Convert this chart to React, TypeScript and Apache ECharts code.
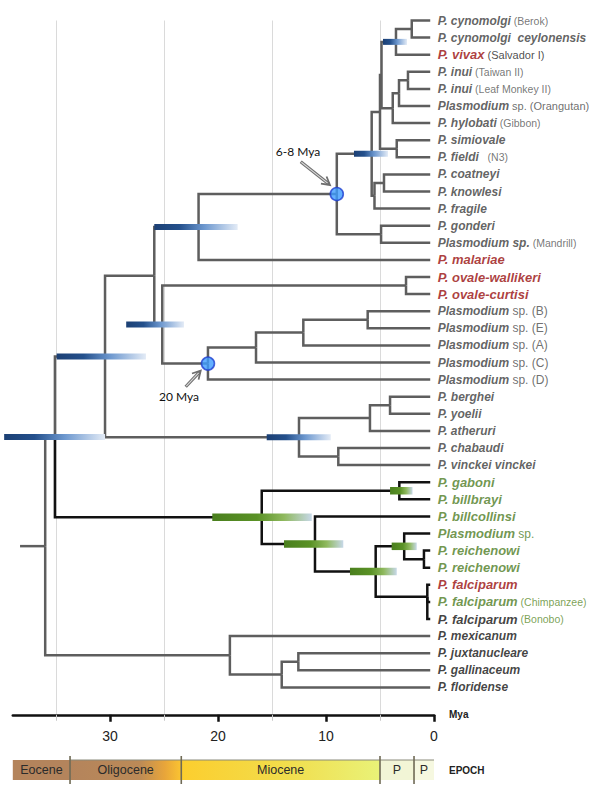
import React, { useEffect, useRef } from 'react';
import * as echarts from 'echarts';

// ---------------- DATA ----------------
const LEAF_AGE = 0.35;
const ROOT_STEM_AGE = 38.33;

// [name, suffix, nameStyle, suffixStyle, parentNode]
const LEAVES: [string, string, string, string, string][] = [
  ['P. cynomolgi', ' (Berok)', 'grey', 'small', 'CY'],
  ['P. cynomolgi  ceylonensis', '', 'grey', 'small', 'CY'],
  ['P. vivax', ' (Salvador I)', 'red', 'dark', 'CV'],
  ['P. inui', ' (Taiwan II)', 'grey', 'small', 'II'],
  ['P. inui', ' (Leaf Monkey II)', 'grey', 'small', 'II'],
  ['Plasmodium', ' sp. (Orangutan)', 'grey', 'mid', 'IO'],
  ['P. hylobati', ' (Gibbon)', 'grey', 'small', 'IH'],
  ['P. simiovale', '', 'grey', 'small', 'SF'],
  ['P. fieldi', '   (N3)', 'grey', 'small', 'SF'],
  ['P. coatneyi', '', 'grey', 'small', 'CK'],
  ['P. knowlesi', '', 'grey', 'small', 'CK'],
  ['P. fragile', '', 'grey', 'small', 'CKF'],
  ['P. gonderi', '', 'grey', 'small', 'GM'],
  ['Plasmodium sp.', ' (Mandrill)', 'grey', 'small', 'GM'],
  ['P. malariae', '', 'red', 'small', 'F'],
  ['P. ovale-wallikeri', '', 'red', 'small', 'OV'],
  ['P. ovale-curtisi', '', 'red', 'small', 'OV'],
  ['Plasmodium', ' sp. (B)', 'grey', 'sp', 'BE'],
  ['Plasmodium', ' sp. (E)', 'grey', 'sp', 'BE'],
  ['Plasmodium', ' sp. (A)', 'grey', 'sp', 'BEA'],
  ['Plasmodium', ' sp. (C)', 'grey', 'sp', 'J'],
  ['Plasmodium', ' sp. (D)', 'grey', 'sp', 'N20'],
  ['P. berghei', '', 'grey', 'small', 'BY'],
  ['P. yoelii', '', 'grey', 'small', 'BY'],
  ['P. atheruri', '', 'grey', 'small', 'BYA'],
  ['P. chabaudi', '', 'grey', 'small', 'CHV'],
  ['P. vinckei vinckei', '', 'grey', 'small', 'CHV'],
  ['P. gaboni', '', 'green', 'small', 'GB'],
  ['P. billbrayi', '', 'green', 'small', 'GB'],
  ['P. billcollinsi', '', 'green', 'small', 'Q'],
  ['Plasmodium', ' sp.', 'green', 'spg', 'T'],
  ['P. reichenowi', '', 'green', 'small', 'RR'],
  ['P. reichenowi', '', 'green', 'small', 'RR'],
  ['P. falciparum', '', 'red', 'small', 'FAL'],
  ['P. falciparum', ' (Chimpanzee)', 'green', 'smallg', 'FAL'],
  ['P. falciparum', ' (Bonobo)', 'black13', 'smallg', 'FAL'],
  ['P. mexicanum', '', 'black', 'small', 'L'],
  ['P. juxtanucleare', '', 'black', 'small', 'NB'],
  ['P. gallinaceum', '', 'black', 'small', 'NB'],
  ['P. floridense', '', 'black', 'small', 'M'],
];

// [id, parent, age (Mya), fixed row or null]
const NODES: [string, string | null, number, number | null][] = [
  ['ROOT', null, 36.0, null],
  ['K', 'ROOT', 35.1, null],
  ['H', 'K', 30.46, null],
  ['G', 'H', 25.9, null],
  ['F', 'G', 21.8, null],
  ['N68', 'F', 9.0, null],
  ['D', 'N68', 5.77, null],
  ['E2', 'D', 5.0, null],
  ['E1', 'E2', 4.86, null],
  ['CV', 'E1', 3.52, null],
  ['CY', 'CV', 2.06, null],
  ['IH', 'E1', 3.82, null],
  ['IO', 'IH', 3.24, null],
  ['II', 'IO', 2.41, null],
  ['SF', 'E2', 3.45, null],
  ['CKF', 'D', 5.51, null],
  ['CK', 'CKF', 4.63, null],
  ['GM', 'N68', 4.9, null],
  ['I', 'G', 25.16, null],
  ['OV', 'I', 2.59, null],
  ['N20', 'I', 20.93, null],
  ['J', 'N20', 16.48, null],
  ['BEA', 'J', 12.1, null],
  ['BE', 'BEA', 6.14, null],
  ['R', 'H', 12.5, null],
  ['BYA', 'R', 5.93, null],
  ['BY', 'BYA', 4.07, null],
  ['CHV', 'R', 8.86, null],
  ['P', 'K', 15.95, null],
  ['GB', 'P', 3.21, null],
  ['Q', 'P', 11.02, null],
  ['S', 'Q', 5.4, null],
  ['T', 'S', 2.76, null],
  ['RR', 'T', 0.93, null],
  ['FAL', 'S', 0.62, 33.7],
  ['L', 'ROOT', 18.9, null],
  ['M', 'L', 14.1, null],
  ['NB', 'M', 12.56, null],
];

const BLACK_CLADE = 'P';

// age confidence bars: [node, older, younger, kind 0=blue 1=green]
const BARS: [string, number, number, number][] = [
  ['CV', 4.72, 2.5, 0],
  ['D', 7.41, 4.26, 0],
  ['F', 25.9, 18.18, 0],
  ['I', 28.5, 23.15, 0],
  ['H', 34.94, 26.67, 0],
  ['K', 39.8, 30.46, 0],
  ['R', 15.49, 9.56, 0],
  ['P', 20.53, 11.32, 1],
  ['GB', 4.07, 1.99, 1],
  ['Q', 13.89, 8.4, 1],
  ['S', 7.78, 3.45, 1],
  ['T', 3.92, 1.6, 1],
];

const MARKED_NODES = ['N68', 'N20'];

// [text, labelAge, labelRow, fromAge, fromRow, toAge, toRow]
const ANNOTATIONS: [string, number, number, number, number, number, number][] = [
  ['6-8 Mya', 12.59, 7.67, 12.34, 8.26, 9.63, 9.62],
  ['20 Mya', 23.61, 21.96, 22.99, 21.42, 21.6, 20.48],
];

const X_TICKS = [0, 10, 20, 30];
const X_MINOR = [5, 15, 25, 35];

const EPOCHS = ['Eocene', 'Oligocene', 'Miocene', 'P', 'P'];
const EPOCH_START = [39, 33.7, 23.4, 5.0, 1.85];
const EPOCH_END = [33.7, 23.4, 5.0, 1.85, 0];

// ---------------- STYLES ----------------
const FONT = 'Liberation Sans';
const EPOCH_FILL: [number, string][][] = [
  [[0, '#b4845c'], [1, '#b4845c']],
  [[0, '#b4845c'], [0.62, '#bb8a57'], [0.85, '#e8a53a'], [1, '#fbc431']],
  [[0, '#fcce2e'], [0.5, '#f2dc4a'], [1, '#e9f278']],
  [[0, '#f2f5d6'], [1, '#f2f5d6']],
  [[0, '#f6f8e0'], [1, '#f6f8e0']],
];
const BAR_STOPS = [
  [[0, '#1c4074'], [0.3, '#24508c'], [0.6, '#6d98cf'], [1, '#e3ebf6']],
  [[0, '#4a7f1e'], [0.45, '#5a9226'], [0.72, '#8fb95e'], [1, '#c7d8e8']],
];
const BAR_H = [6, 7.5];

const RICH: Record<string, any> = {
  grey: { fontFamily: FONT, fontSize: 12, fontWeight: 'bold', fontStyle: 'italic', color: '#3a3a3a' },
  red: { fontFamily: FONT, fontSize: 13, fontWeight: 'bold', fontStyle: 'italic', color: '#980c0c' },
  green: { fontFamily: FONT, fontSize: 13, fontWeight: 'bold', fontStyle: 'italic', color: '#4d7c1f' },
  black: { fontFamily: FONT, fontSize: 12, fontWeight: 'bold', fontStyle: 'italic', color: '#111111' },
  black13: { fontFamily: FONT, fontSize: 13, fontWeight: 'bold', fontStyle: 'italic', color: '#111111' },
  small: { fontFamily: FONT, fontSize: 10.5, color: '#555555' },
  mid: { fontFamily: FONT, fontSize: 11, color: '#4a4a4a' },
  dark: { fontFamily: FONT, fontSize: 11, color: '#222222' },
  sp: { fontFamily: FONT, fontSize: 12, color: '#4a4a4a' },
  spg: { fontFamily: FONT, fontSize: 12, color: '#4d7c1f' },
  smallg: { fontFamily: FONT, fontSize: 10.5, color: '#5a8a2a' },
};

// ---------------- TREE LAYOUT (rows from leaves) ----------------
const nodeMap: Record<string, [string, string | null, number, number | null]> = {};
NODES.forEach((n) => (nodeMap[n[0]] = n));
const leafRows: Record<string, number[]> = {};
LEAVES.forEach((l, i) => {
  (leafRows[l[4]] = leafRows[l[4]] || []).push(i);
});
const kids: Record<string, string[]> = {};
NODES.forEach((n) => {
  if (n[1]) (kids[n[1]] = kids[n[1]] || []).push(n[0]);
});
const rowOf: Record<string, number> = {};
function computeRow(id: string): number {
  if (rowOf[id] !== undefined) return rowOf[id];
  const n = nodeMap[id];
  const rows = [...(leafRows[id] || []), ...(kids[id] || []).map(computeRow)];
  const r = n[3] != null ? n[3] : (Math.min(...rows) + Math.max(...rows)) / 2;
  rowOf[id] = r;
  return r;
}
NODES.forEach((n) => computeRow(n[0]));
function isBlack(id: string | null): boolean {
  let cur = id;
  while (cur) {
    if (cur === BLACK_CLADE) return true;
    cur = nodeMap[cur][1];
  }
  return false;
}
type Edge = { pa: number; pr: number; ca: number; cr: number; black: boolean };
const EDGES: Edge[] = [];
NODES.forEach((n) => {
  if (n[1]) {
    const p = nodeMap[n[1]];
    EDGES.push({ pa: p[2], pr: rowOf[p[0]], ca: n[2], cr: rowOf[n[0]], black: isBlack(n[0]) });
  } else {
    EDGES.push({ pa: ROOT_STEM_AGE, pr: rowOf[n[0]], ca: n[2], cr: rowOf[n[0]], black: false });
  }
});
LEAVES.forEach((l, i) => {
  const p = nodeMap[l[4]];
  EDGES.push({ pa: p[2], pr: rowOf[p[0]], ca: LEAF_AGE, cr: i, black: isBlack(p[0]) });
});

// ---------------- OPTION ----------------
const GRID_LEFT = 12.8;
const GRID_W = 421.2;

const option: any = {
  animation: false,
  backgroundColor: '#ffffff',
  grid: [
    { left: GRID_LEFT, top: 20.5, width: GRID_W, height: 694.26 },
    { left: GRID_LEFT, top: 760, width: GRID_W, height: 20 },
  ],
  xAxis: [
    {
      gridIndex: 0,
      type: 'value',
      min: 0,
      max: 39,
      interval: 5,
      inverse: true,
      position: 'bottom',
      name: 'Mya',
      nameLocation: 'start',
      nameGap: 15,
      nameTextStyle: { fontFamily: FONT, fontSize: 10, fontWeight: 'bold', color: '#222' },
      axisLine: { show: true, onZero: false, lineStyle: { color: '#111', width: 2.5 } },
      axisTick: { show: true, customValues: X_TICKS, length: 7, lineStyle: { color: '#111', width: 2.5 } },
      axisLabel: { show: true, customValues: X_TICKS, fontFamily: FONT, fontSize: 14, color: '#222', margin: 14 },
      splitLine: { show: false },
    },
    {
      gridIndex: 0,
      type: 'value',
      min: 0,
      max: 39,
      interval: 5,
      inverse: true,
      position: 'bottom',
      axisLine: { show: false, onZero: false },
      axisTick: { show: true, customValues: X_MINOR, length: 6, lineStyle: { color: '#c8c8c8', width: 1 } },
      axisLabel: { show: false },
      splitLine: { show: true, lineStyle: { color: '#dadada', width: 1 } },
    },
    {
      gridIndex: 1,
      type: 'value',
      min: 0,
      max: 39,
      inverse: true,
      position: 'bottom',
      offset: -10,
      name: 'EPOCH',
      nameLocation: 'start',
      nameGap: 15,
      nameTextStyle: { fontFamily: FONT, fontSize: 10, fontWeight: 'bold', color: '#222' },
      axisLine: { show: false, onZero: false },
      axisTick: { show: false },
      axisLabel: { show: false },
      splitLine: { show: false },
    },
  ],
  yAxis: [
    { gridIndex: 0, type: 'value', min: 0, max: 40.6, inverse: true, show: false },
    { gridIndex: 1, type: 'value', min: 0, max: 1, show: false },
  ],
  series: [
    {
      type: 'custom',
      name: 'tree',
      xAxisIndex: 0,
      yAxisIndex: 0,
      clip: false,
      silent: true,
      z: 2,
      data: EDGES.map((e) => [e.pa, e.pr, e.ca, e.cr]),
      renderItem: (params: any, api: any) => {
        const e = EDGES[params.dataIndex];
        const p0 = api.coord([api.value(0), api.value(1)]);
        const p1 = api.coord([api.value(0), api.value(3)]);
        const p2 = api.coord([api.value(2), api.value(3)]);
        return {
          type: 'polyline',
          shape: { points: [p0, p1, p2] },
          style: { stroke: e.black ? '#111111' : '#5e5e5e', lineWidth: 2.5, fill: null, lineJoin: 'miter' },
        };
      },
    },
    {
      type: 'custom',
      name: 'bars',
      xAxisIndex: 0,
      yAxisIndex: 0,
      clip: false,
      silent: true,
      z: 3,
      data: BARS.map((b) => [b[1], b[2], rowOf[b[0]], b[3]]),
      renderItem: (params: any, api: any) => {
        const kind = api.value(3);
        const a = api.coord([api.value(0), api.value(2)]);
        const b = api.coord([api.value(1), api.value(2)]);
        const h = BAR_H[kind];
        return {
          type: 'rect',
          shape: { x: a[0], y: a[1] - h / 2, width: b[0] - a[0], height: h },
          style: {
            fill: new echarts.graphic.LinearGradient(
              0, 0, 1, 0,
              (BAR_STOPS[kind] as [number, string][]).map(([o, c]) => ({ offset: o, color: c }))
            ),
          },
        };
      },
    },
    {
      type: 'scatter',
      name: 'markers',
      xAxisIndex: 0,
      yAxisIndex: 0,
      silent: true,
      z: 5,
      symbol: 'circle',
      symbolSize: 13,
      itemStyle: { color: '#3d9cff', borderColor: '#1f3fcf', borderWidth: 1.6 },
      data: MARKED_NODES.map((id) => [nodeMap[id][2], rowOf[id]]),
    },
    {
      type: 'custom',
      name: 'annotations',
      xAxisIndex: 0,
      yAxisIndex: 0,
      clip: false,
      silent: true,
      z: 5,
      data: ANNOTATIONS.map((a) => [a[1], a[2], a[3], a[4], a[5], a[6]]),
      renderItem: (params: any, api: any) => {
        const txt = ANNOTATIONS[params.dataIndex][0];
        const lp = api.coord([api.value(0), api.value(1)]);
        const f = api.coord([api.value(2), api.value(3)]);
        const t = api.coord([api.value(4), api.value(5)]);
        const dx = t[0] - f[0];
        const dy = t[1] - f[1];
        const len = Math.sqrt(dx * dx + dy * dy);
        const ux = dx / len;
        const uy = dy / len;
        const nx = -uy;
        const ny = ux;
        const hl = 8;
        const hw = 4.5;
        const left = [t[0] - ux * hl + nx * hw, t[1] - uy * hl + ny * hw];
        const right = [t[0] - ux * hl - nx * hw, t[1] - uy * hl - ny * hw];
        return {
          type: 'group',
          children: [
            {
              type: 'line',
              shape: { x1: f[0], y1: f[1], x2: t[0] - ux * 1.5, y2: t[1] - uy * 1.5 },
              style: { stroke: '#6e6e6e', lineWidth: 3.2 },
            },
            {
              type: 'line',
              shape: { x1: f[0] + ux * 0.8, y1: f[1] + uy * 0.8, x2: t[0] - ux * 3, y2: t[1] - uy * 3 },
              style: { stroke: '#d9d9d9', lineWidth: 1.1 },
            },
            {
              type: 'polyline',
              shape: { points: [left, t, right] },
              style: { stroke: '#6e6e6e', lineWidth: 1.8, fill: null },
            },
            {
              type: 'text',
              x: lp[0],
              y: lp[1],
              style: {
                text: txt,
                fill: '#111111',
                fontFamily: 'Lato',
                fontSize: 12,
                align: 'center',
                verticalAlign: 'middle',
              },
            },
          ],
        };
      },
    },
    {
      type: 'scatter',
      name: 'leaves',
      xAxisIndex: 0,
      yAxisIndex: 0,
      silent: true,
      z: 6,
      symbol: 'circle',
      symbolSize: 1,
      itemStyle: { color: 'rgba(0,0,0,0)' },
      data: LEAVES.map((l, i) => ({ value: [LEAF_AGE, i], name: l[0] })),
      label: {
        show: true,
        position: 'right',
        distance: 7,
        formatter: (p: any) => {
          const l = LEAVES[p.dataIndex];
          return `{${l[2]}|${l[0]}}` + (l[1] ? `{${l[3]}|${l[1]}}` : '');
        },
        rich: RICH,
      },
    },
    {
      type: 'custom',
      name: 'epochs',
      xAxisIndex: 2,
      yAxisIndex: 1,
      clip: false,
      silent: true,
      z: 2,
      data: EPOCHS.map((_, i) => [EPOCH_START[i], EPOCH_END[i]]),
      renderItem: (params: any, api: any) => {
        const i = params.dataIndex;
        const tl = api.coord([api.value(0), 1]);
        const br = api.coord([api.value(1), 0]);
        const w = br[0] - tl[0];
        const h = br[1] - tl[1];
        const children: any[] = [
          {
            type: 'rect',
            shape: { x: tl[0], y: tl[1], width: w, height: h },
            style: {
              fill: new echarts.graphic.LinearGradient(
                0, 0, 1, 0,
                EPOCH_FILL[i].map(([o, c]) => ({ offset: o, color: c }))
              ),
            },
          },
          {
            type: 'text',
            x: tl[0] + w / 2,
            y: tl[1] + h / 2,
            style: {
              text: EPOCHS[i],
              fill: '#2b2b2b',
              fontFamily: FONT,
              fontSize: 12.5,
              align: 'center',
              verticalAlign: 'middle',
            },
          },
        ];
        if (i > 0) {
          children.push({
            type: 'line',
            shape: { x1: tl[0], y1: tl[1], x2: br[0], y2: tl[1] },
            style: { stroke: '#8a8a7a', lineWidth: 1 },
          });
          children.push({
            type: 'line',
            shape: { x1: tl[0], y1: tl[1] - 4, x2: tl[0], y2: br[1] + 4 },
            style: { stroke: '#6f6a55', lineWidth: 1.6 },
          });
        }
        return { type: 'group', children };
      },
    },
  ],
};

export default function App() {
  const ref = useRef<HTMLDivElement>(null);
  useEffect(() => {
    if (!ref.current) return;
    const chart = echarts.init(ref.current, null, { renderer: 'svg' });
    chart.setOption(option);
    return () => chart.dispose();
  }, []);
  return (
    <div
      ref={ref}
      style={{ position: 'absolute', left: 0, top: 0, width: 600, height: 788, background: '#fff' }}
    />
  );
}
